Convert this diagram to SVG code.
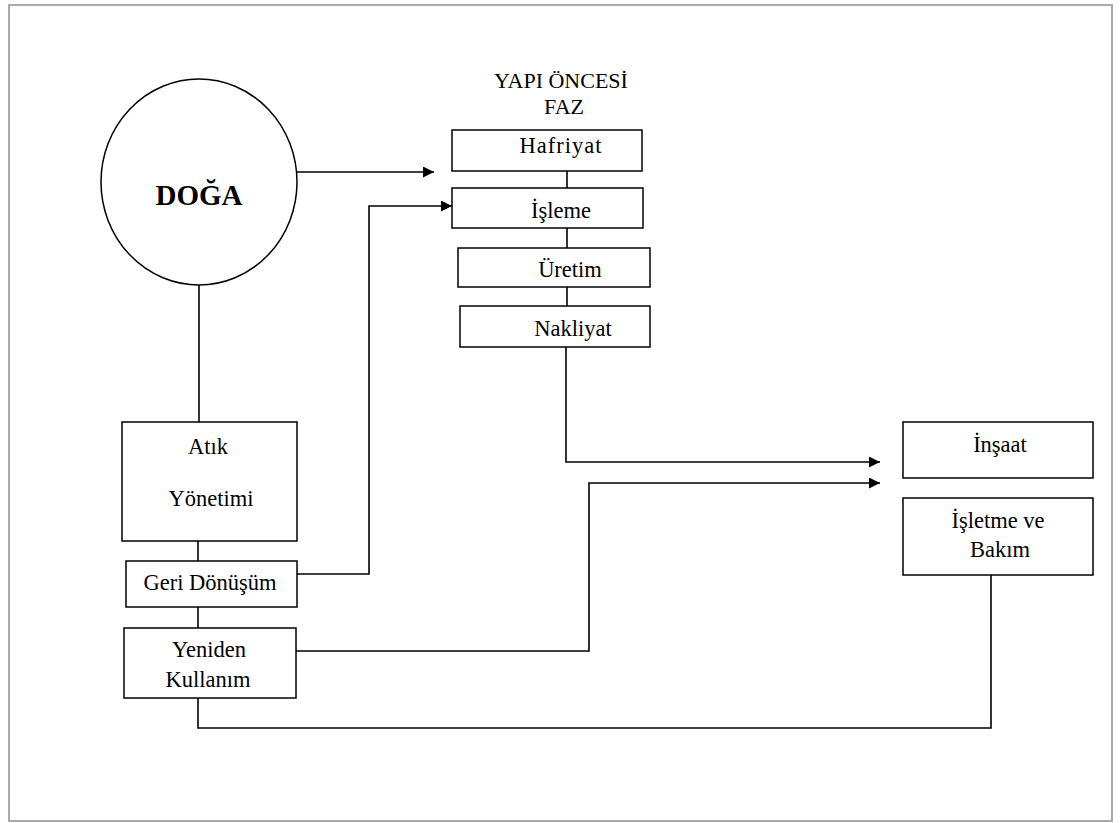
<svg xmlns="http://www.w3.org/2000/svg" width="1120" height="823" viewBox="0 0 1120 823">
<style>
.box{fill:#fff;stroke:#000;stroke-width:1.5}
.t{font-family:"Liberation Serif","Times New Roman",serif;font-size:22.5px;fill:#000;text-anchor:middle}
.c{fill:none;stroke:#000;stroke-width:1.6}
</style>
<defs>
<marker id="ah" markerWidth="11" markerHeight="11" refX="11" refY="5.5" orient="auto" markerUnits="userSpaceOnUse">
<path d="M0,0 L11,5.5 L0,11 Z" fill="#000"/>
</marker>
</defs>
<rect x="0" y="0" width="1120" height="823" fill="#fff"/>
<rect x="9" y="5" width="1103" height="816" fill="none" stroke="#aaa" stroke-width="2"/>

<g id="connectors">
<path class="c" d="M297,172 H434" marker-end="url(#ah)"/>
<path class="c" d="M199,285 V422"/>
<path class="c" d="M567,171 V188"/>
<path class="c" d="M567,228 V248"/>
<path class="c" d="M567,287 V306"/>
<path class="c" d="M566,347 V462 H880" marker-end="url(#ah)"/>
<path class="c" d="M198,541 V561"/>
<path class="c" d="M198,607 V628"/>
<path class="c" d="M297,574 H369 V206 H452" marker-end="url(#ah)"/>
<path class="c" d="M296,651 H589 V483 H880" marker-end="url(#ah)"/>
<path class="c" d="M198,698 V728 H991 V575"/>
</g>

<g id="doga">
<ellipse cx="199" cy="182" rx="98" ry="103" fill="#fff" stroke="#000" stroke-width="1.5"/>
<text class="t" x="199" y="205" style="font-size:29px;font-weight:bold">DOĞA</text>
</g>

<g id="yapi-oncesi-faz">
<text class="t" x="561" y="88" style="font-size:22px">YAPI ÖNCESİ</text>
<text class="t" x="564" y="114" style="font-size:22px">FAZ</text>
</g>

<g id="hafriyat">
<rect class="box" x="452" y="130" width="190" height="41"/>
<text class="t" x="561" y="153" style="letter-spacing:1px">Hafriyat</text>
</g>
<g id="isleme">
<rect class="box" x="452" y="188" width="191" height="40"/>
<text class="t" x="561" y="218">İşleme</text>
</g>
<g id="uretim">
<rect class="box" x="458" y="248" width="192" height="39"/>
<text class="t" x="570" y="277">Üretim</text>
</g>
<g id="nakliyat">
<rect class="box" x="460" y="306" width="190" height="41"/>
<text class="t" x="573" y="336">Nakliyat</text>
</g>

<g id="atik-yonetimi">
<rect class="box" x="122" y="422" width="175" height="119"/>
<text class="t" x="208" y="454">Atık</text>
<text class="t" x="211" y="506">Yönetimi</text>
</g>
<g id="geri-donusum">
<rect class="box" x="126" y="561" width="171" height="46"/>
<text class="t" x="210" y="590">Geri Dönüşüm</text>
</g>
<g id="yeniden-kullanim">
<rect class="box" x="124" y="628" width="172" height="70"/>
<text class="t" x="209" y="657">Yeniden</text>
<text class="t" x="208" y="687">Kullanım</text>
</g>

<g id="insaat">
<rect class="box" x="903" y="422" width="190" height="56"/>
<text class="t" x="1000" y="452">İnşaat</text>
</g>
<g id="isletme-bakim">
<rect class="box" x="903" y="498" width="190" height="77"/>
<text class="t" x="998" y="528">İşletme ve</text>
<text class="t" x="1000" y="557">Bakım</text>
</g>
</svg>
